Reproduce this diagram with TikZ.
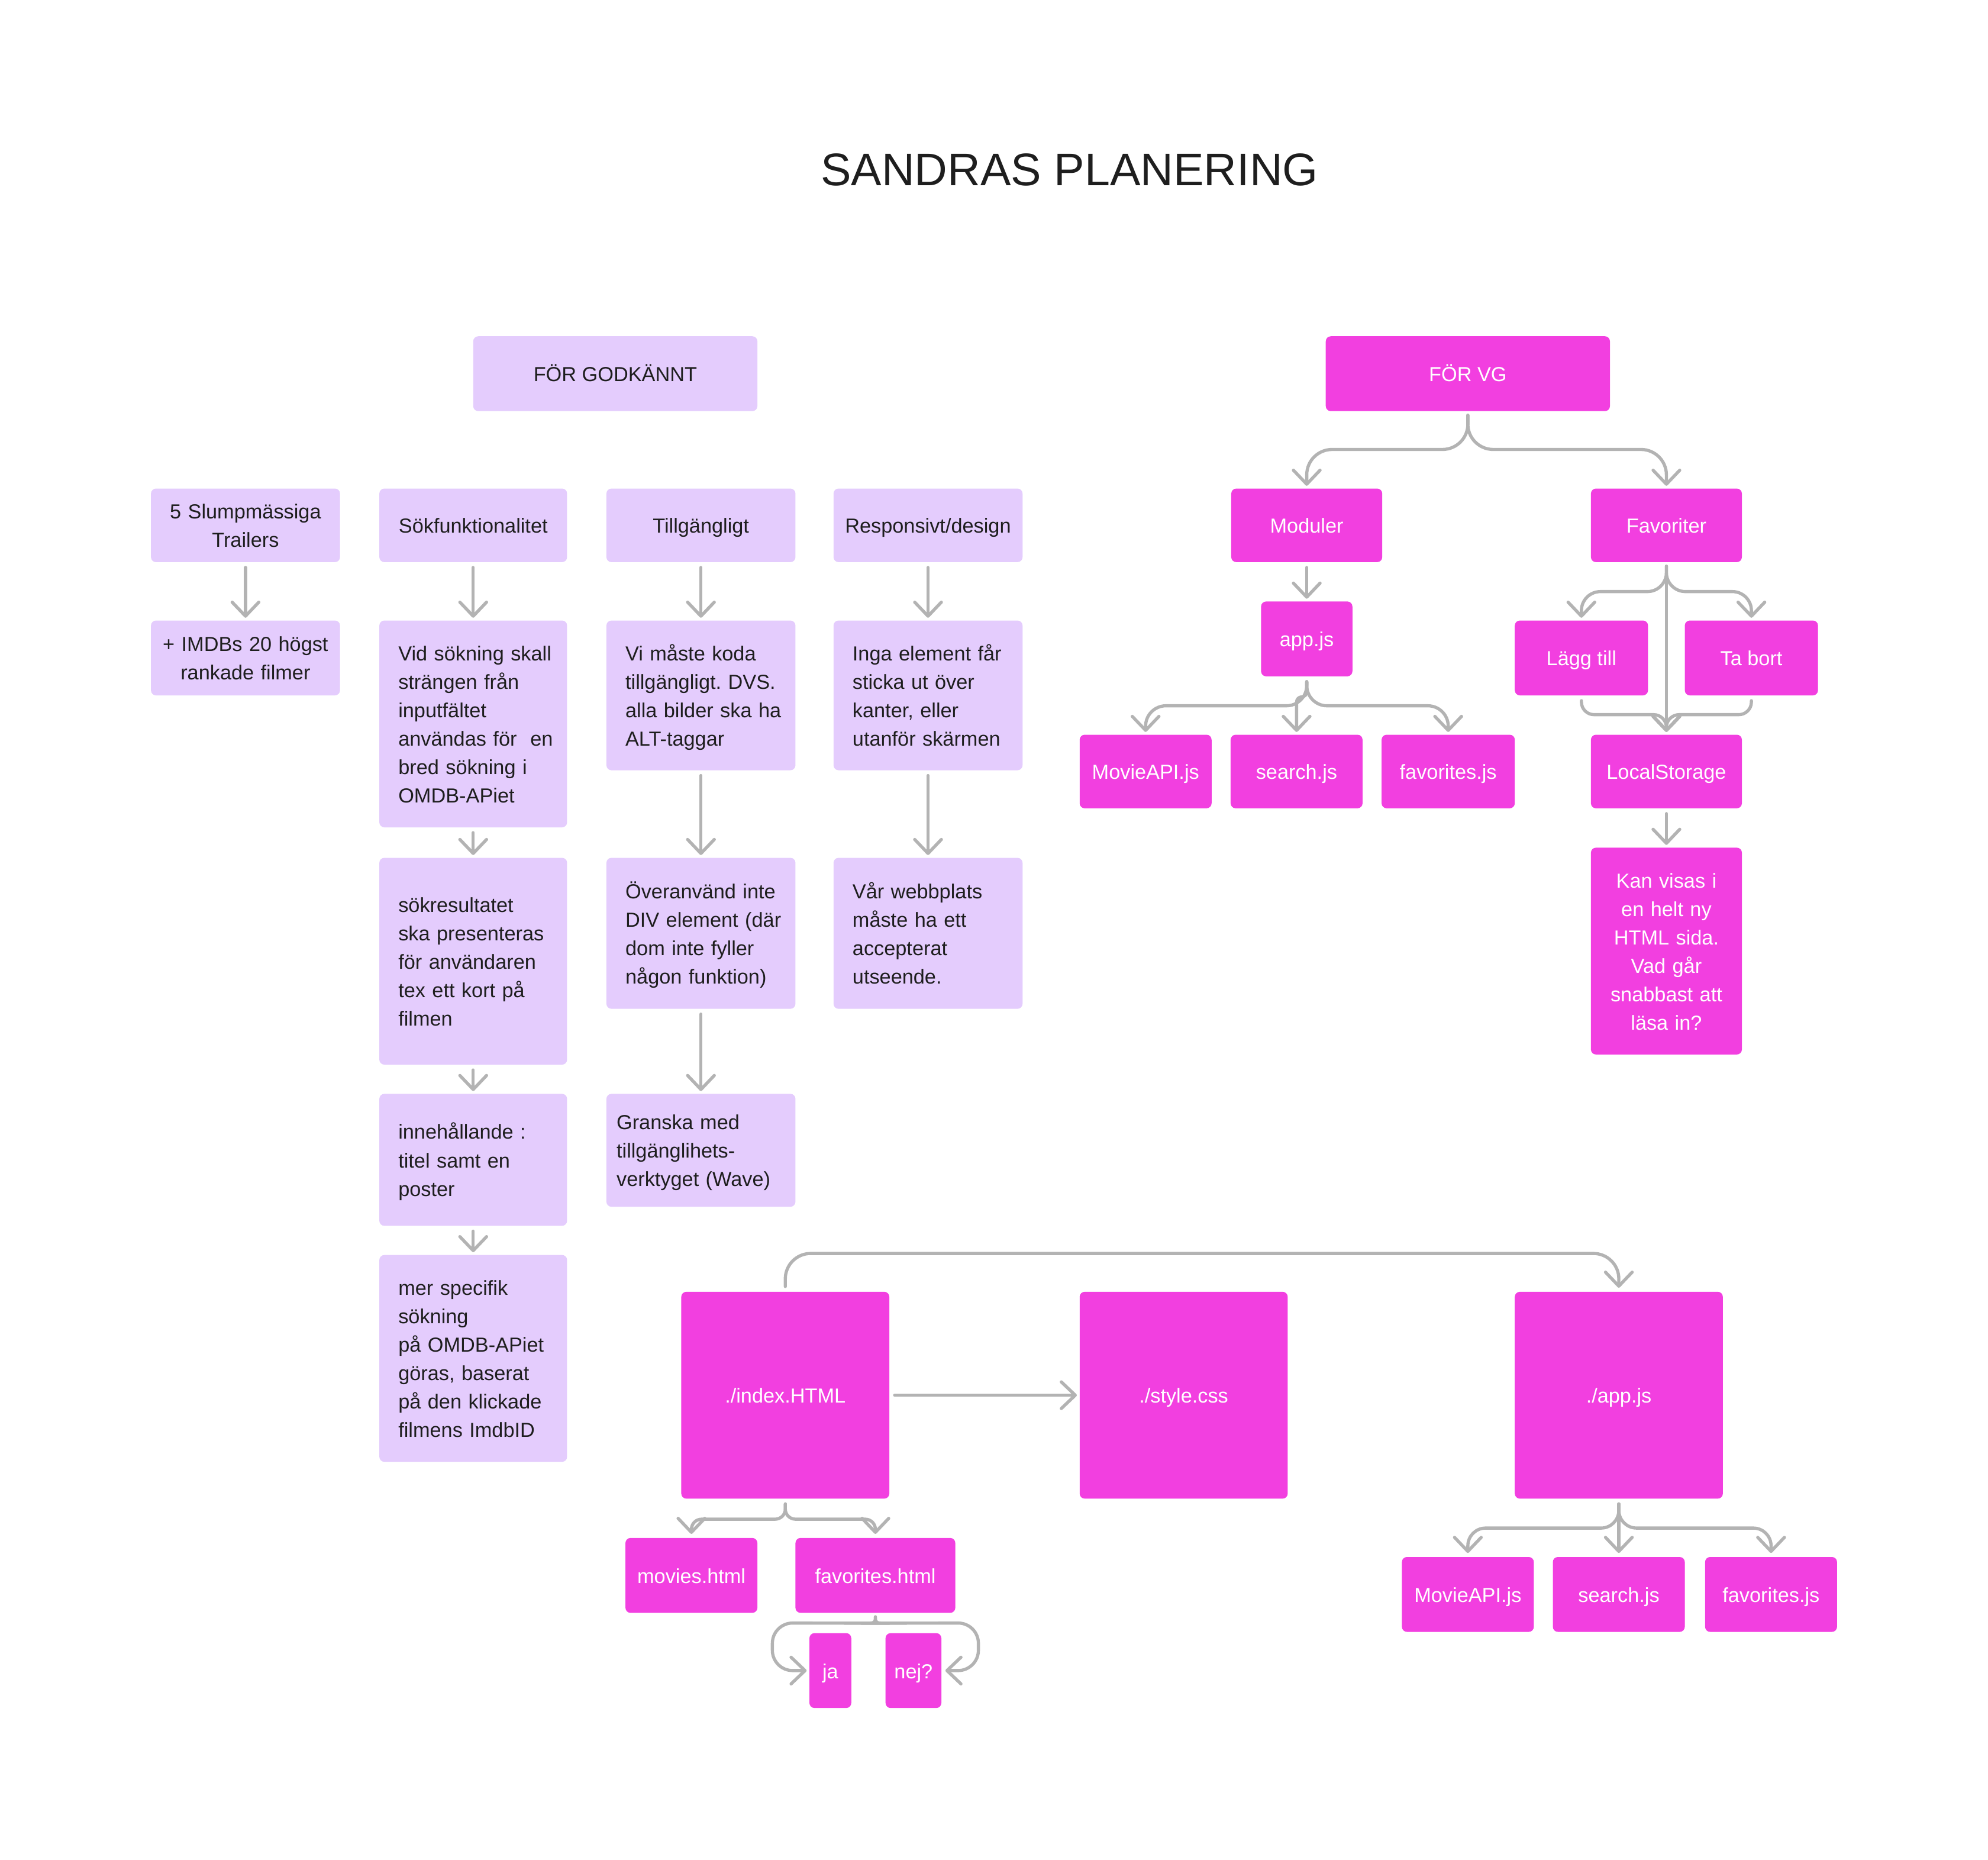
\documentclass[tikz,border=0pt]{standalone}
\usepackage{fontspec}
\setmainfont{Liberation Sans}
\usetikzlibrary{arrows.meta,calc}
\definecolor{lav}{HTML}{E4CCFD}
\definecolor{mag}{HTML}{F23FE0}
\definecolor{lin}{HTML}{B3B3B3}
\definecolor{ink}{HTML}{1E1E1E}
\frenchspacing
\begin{document}
\begin{tikzpicture}[x=1pt,y=-1pt,
  box/.style={rectangle, rounded corners=4pt, inner sep=0pt, font=\fontsize{16}{22.4}\selectfont,
    execute at begin node=\rule{0pt}{19pt}, execute at end node=\strut},
  lbox/.style={box, fill=lav, text=ink},
  pbox/.style={box, fill=mag, text=white, align=center},
  lcen/.style={lbox, align=center},
  mcen/.style={align=center, inner xsep=5pt, text width=#1},
  lleft/.style={lbox, align=left, inner xsep=15pt, text width=#1},
  conn/.style={draw=lin, line width=2.5pt, line cap=round, line join=round,
    -{Straight Barb[length=11pt,width=21pt,round]}},
  title/.style={font=\fontsize{36}{40}\selectfont, text=ink, inner sep=0pt}
]
\fill[white] (0,0) rectangle (1567,1465.4);
\useasboundingbox (0,0) rectangle (1567,1465.4);

\node[title] (ttl) at (843,134) {SANDRAS PLANERING};

% ---- FÖR GODKÄNNT side
\node[lcen, minimum width=224pt, minimum height=59pt] (god) at (485,294.5) {FÖR GODKÄNNT};
\node[lcen, mcen=139pt, minimum width=149pt, minimum height=58pt] (t5) at (193.5,414) {\mbox{5 Slumpmässiga}\\\mbox{Trailers}};
\node[lcen, minimum width=148pt, minimum height=58pt] (sok) at (373,414) {Sökfunktionalitet};
\node[lcen, minimum width=149pt, minimum height=58pt] (till) at (552.5,414) {Tillgängligt};
\node[lcen, minimum width=149pt, minimum height=58pt] (resp) at (731.5,414) {Responsivt/design};

\node[lcen, mcen=139pt, minimum width=149pt, minimum height=59pt] (imdb) at (193.5,518.5) {\mbox{+ IMDBs 20 högst}\\\mbox{rankade filmer}};
\node[lleft=118pt, minimum width=148pt, minimum height=163pt] (vid) at (373,570.5)
  {\mbox{Vid sökning skall}\\\mbox{strängen från}\\\mbox{inputfältet}\\\mbox{användas för\ \ en}\\\mbox{bred sökning i}\\\mbox{OMDB-APiet}};
\node[lleft=119pt, minimum width=149pt, minimum height=118pt] (vim) at (552.5,548)
  {\mbox{Vi måste koda}\\\mbox{tillgängligt. DVS.}\\\mbox{alla bilder ska ha}\\\mbox{ALT-taggar}};
\node[lleft=119pt, minimum width=149pt, minimum height=118pt] (inga) at (731.5,548)
  {\mbox{Inga element får}\\\mbox{sticka ut över}\\\mbox{kanter, eller}\\\mbox{utanför skärmen}};

\node[lleft=118pt, minimum width=148pt, minimum height=163pt] (sokres) at (373,757.5)
  {\mbox{sökresultatet}\\\mbox{ska presenteras}\\\mbox{för användaren}\\\mbox{tex ett kort på}\\\mbox{filmen}};
\node[lleft=119pt, minimum width=149pt, minimum height=119pt] (over) at (552.5,735.5)
  {\mbox{Överanvänd inte}\\\mbox{DIV element (där}\\\mbox{dom inte fyller}\\\mbox{någon funktion)}};
\node[lleft=119pt, minimum width=149pt, minimum height=119pt] (var) at (731.5,735.5)
  {\mbox{Vår webbplats}\\\mbox{måste ha ett}\\\mbox{accepterat}\\\mbox{utseende.}};

\node[lleft=118pt, minimum width=148pt, minimum height=104pt] (inneh) at (373,914)
  {\mbox{innehållande :}\\\mbox{titel samt en}\\\mbox{poster}};
\node[lbox, align=left, inner xsep=8pt, text width=133pt, minimum width=149pt, minimum height=89pt] (granska) at (552.5,906.5)
  {\mbox{Granska med}\\\mbox{tillgänglihets-}\\\mbox{verktyget (Wave)}};
\node[lleft=118pt, minimum width=148pt, minimum height=163pt] (mer) at (373,1070.5)
  {\mbox{mer specifik}\\\mbox{sökning}\\\mbox{på OMDB-APiet}\\\mbox{göras, baserat}\\\mbox{på den klickade}\\\mbox{filmens ImdbID}};

% ---- FÖR VG side
\node[pbox, minimum width=224pt, minimum height=59pt] (vg) at (1157,294.5) {FÖR VG};
\node[pbox, minimum width=119pt, minimum height=58pt] (mod) at (1030,414) {Moduler};
\node[pbox, minimum width=119pt, minimum height=58pt] (fav) at (1313.5,414) {Favoriter};
\node[pbox, minimum width=72pt, minimum height=59pt] (appjs) at (1030,503.5) {app.js};
\node[pbox, minimum width=104pt, minimum height=58pt] (mapi1) at (903,608) {MovieAPI.js};
\node[pbox, minimum width=104pt, minimum height=58pt] (srch1) at (1022,608) {search.js};
\node[pbox, minimum width=105pt, minimum height=58pt] (favjs1) at (1141.5,608) {favorites.js};
\node[pbox, minimum width=105pt, minimum height=59pt] (lagg) at (1246.5,518.5) {Lägg till};
\node[pbox, minimum width=105pt, minimum height=59pt] (tabort) at (1380.5,518.5) {Ta bort};
\node[pbox, minimum width=119pt, minimum height=58pt] (local) at (1313.5,608) {LocalStorage};
\node[pbox, mcen=109pt, minimum width=119pt, minimum height=163pt] (kan) at (1313.5,749.5)
  {\mbox{Kan visas i}\\\mbox{en helt ny}\\\mbox{HTML sida.}\\\mbox{Vad går}\\\mbox{snabbast att}\\\mbox{läsa in?}};

% ---- bottom
\node[pbox, minimum width=164pt, minimum height=163pt] (index) at (619,1099.5) {./index.HTML};
\node[pbox, minimum width=164pt, minimum height=163pt] (style) at (933,1099.5) {./style.css};
\node[pbox, minimum width=164pt, minimum height=163pt] (app2) at (1276,1099.5) {./app.js};
\node[pbox, minimum width=104pt, minimum height=59pt] (movies) at (545,1241.5) {movies.html};
\node[pbox, minimum width=126pt, minimum height=59pt] (favhtml) at (690,1241.5) {favorites.html};
\node[pbox, minimum width=33pt, minimum height=59pt] (ja) at (654.5,1316.5) {ja};
\node[pbox, minimum width=44pt, minimum height=59pt] (nej) at (720,1316.5) {nej?};
\node[pbox, minimum width=104pt, minimum height=59pt] (mapi2) at (1157,1256.5) {MovieAPI.js};
\node[pbox, minimum width=104pt, minimum height=59pt] (srch2) at (1276,1256.5) {search.js};
\node[pbox, minimum width=104pt, minimum height=59pt] (favjs2) at (1396,1256.5) {favorites.js};

% ---- straight connectors
\draw[conn] ($(t5.south)+(0,4)$) -- ($(imdb.north)+(0,-2)$);
\draw[conn] ($(sok.south)+(0,4)$) -- ($(vid.north)+(0,-2)$);
\draw[conn] ($(till.south)+(0,4)$) -- ($(vim.north)+(0,-2)$);
\draw[conn] ($(resp.south)+(0,4)$) -- ($(inga.north)+(0,-2)$);
\draw[conn] ($(vid.south)+(0,4)$) -- ($(sokres.north)+(0,-2)$);
\draw[conn] ($(sokres.south)+(0,4)$) -- ($(inneh.north)+(0,-2)$);
\draw[conn] ($(inneh.south)+(0,4)$) -- ($(mer.north)+(0,-2)$);
\draw[conn] ($(vim.south)+(0,4)$) -- ($(over.north)+(0,-2)$);
\draw[conn] ($(over.south)+(0,4)$) -- ($(granska.north)+(0,-2)$);
\draw[conn] ($(inga.south)+(0,4)$) -- ($(var.north)+(0,-2)$);
\draw[conn] ($(mod.south)+(0,4)$) -- ($(appjs.north)+(0,-2)$);
\draw[conn] ($(local.south)+(0,4)$) -- ($(kan.north)+(0,-2)$);
\draw[conn] ($(fav.south)+(0,4)$) -- ($(local.north)+(0,-2)$);
\draw[conn] ($(index.east)+(4,0)$) -- ($(style.west)+(-2,0)$);
\draw[conn] ($(app2.south)+(0,4)$) -- ($(srch2.north)+(0,-3)$);

% ---- branching connectors
\draw[conn, rounded corners=20pt] ($(vg.south)+(0,3)$) -- ($(vg.south)+(0,30)$) -| ($(mod.north)+(0,-2)$);
\draw[conn, rounded corners=20pt] ($(vg.south)+(0,3)$) -- ($(vg.south)+(0,30)$) -| ($(fav.north)+(0,-2)$);

\draw[conn, rounded corners=15pt] ($(fav.south)+(0,3)$) -- ($(fav.south)+(0,23)$) -| ($(lagg.north)+(0,-2)$);
\draw[conn, rounded corners=15pt] ($(fav.south)+(0,3)$) -- ($(fav.south)+(0,23)$) -| ($(tabort.north)+(0,-2)$);
\draw[conn, rounded corners=10pt] ($(lagg.south)+(0,4)$) -- ($(lagg.south)+(0,15)$) -| ($(local.north)+(0,-2)$);
\draw[conn, rounded corners=10pt] ($(tabort.south)+(0,4)$) -- ($(tabort.south)+(0,15)$) -| ($(local.north)+(0,-2)$);

\draw[conn, rounded corners=16pt] ($(appjs.south)+(0,4)$) -- ($(appjs.south)+(0,23)$) -| ($(mapi1.north)+(0,-2)$);
\draw[conn, rounded corners=16pt] ($(appjs.south)+(0,4)$) -- ($(appjs.south)+(0,23)$) -| ($(favjs1.north)+(0,-2)$);
\draw[conn, rounded corners=4pt] ($(appjs.south)+(0,4)$) -- ($(appjs.south)+(0,16)$) -| ($(srch1.north)+(0,-2)$);

\draw[conn, rounded corners=20pt] ($(index.north)+(0,-4)$) -- ($(index.north)+(0,-30)$) -| ($(app2.north)+(0,-3)$);

\draw[conn, rounded corners=8pt] ($(index.south)+(0,4)$) -- ($(index.south)+(0,16)$) -| ($(movies.north)+(0,-3)$);
\draw[conn, rounded corners=8pt] ($(index.south)+(0,4)$) -- ($(index.south)+(0,16)$) -| ($(favhtml.north)+(0,-3)$);

\draw[conn, rounded corners=14pt] ($(app2.south)+(0,4)$) -- ($(app2.south)+(0,23)$) -| ($(mapi2.north)+(0,-3)$);
\draw[conn, rounded corners=14pt] ($(app2.south)+(0,4)$) -- ($(app2.south)+(0,23)$) -| ($(favjs2.north)+(0,-3)$);

\draw[conn, rounded corners=16pt] ($(favhtml.south)+(0,3)$) .. controls ($(favhtml.south)+(0,8)$) .. ($(favhtml.south)+(-5,8)$)
  -- ($(ja.west)+(-29,-37.5)$) -- ($(ja.west)+(-29,0)$) -- ($(ja.west)+(-2,0)$);
\draw[conn, rounded corners=16pt] ($(favhtml.south)+(0,3)$) .. controls ($(favhtml.south)+(0,8)$) .. ($(favhtml.south)+(5,8)$)
  -- ($(nej.east)+(29,-37.5)$) -- ($(nej.east)+(29,0)$) -- ($(nej.east)+(3,0)$);
\end{tikzpicture}
\end{document}
